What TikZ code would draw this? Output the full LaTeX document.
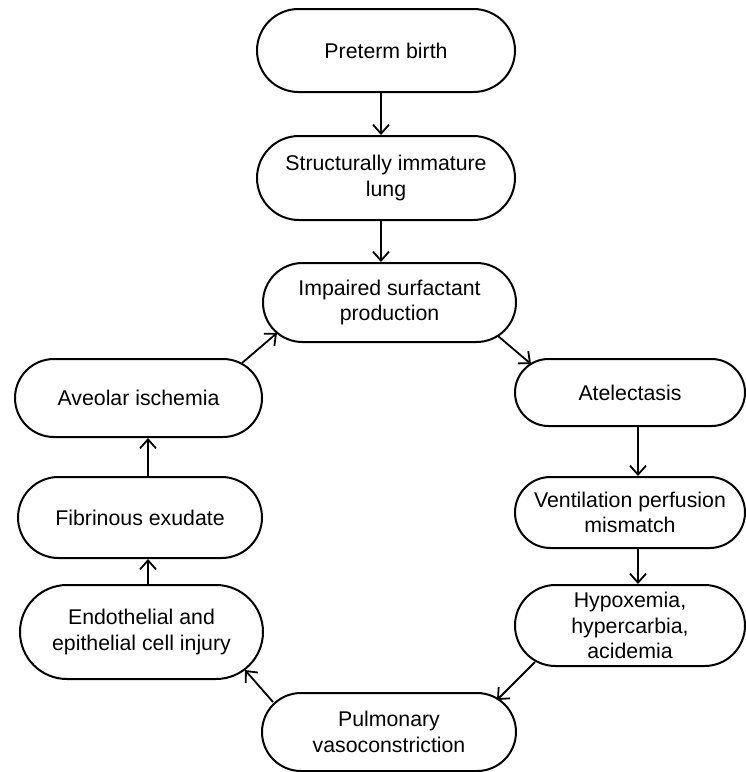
\documentclass[tikz,border=0pt]{standalone}
\usepackage{fontspec}
\setmainfont{Liberation Sans}
\usetikzlibrary{shapes.misc,arrows.meta}
\begin{document}
\begin{tikzpicture}[x=1pt,y=-1pt,
  box/.style={rounded rectangle, draw=black, line width=2pt, inner sep=0pt, align=center,
    font=\fontsize{21.3}{25.7}\selectfont},
  arr/.style={line width=1.8pt, -{Straight Barb[length=9pt,width=16pt]}}]
\clip (0,0) rectangle (746,772);
\node[box, minimum width=258, minimum height=83] (pre) at (386,50.5) {Preterm birth};
\node[box, minimum width=258, minimum height=84] (str) at (386,178) {Structurally immature\\lung};
\node[box, minimum width=253, minimum height=79] (imp) at (389.5,302.5) {Impaired surfactant\\production};
\node[box, minimum width=230, minimum height=67] (atel) at (630,392.5) {Atelectasis};
\node[box, minimum width=230, minimum height=71] (vent) at (630,512.5) {Ventilation perfusion\\mismatch};
\node[box, minimum width=230, minimum height=81] (hyp) at (630,625.5) {Hypoxemia,\\hypercarbia,\\acidemia};
\node[box, minimum width=254, minimum height=78] (pul) at (389,732) {Pulmonary\\vasoconstriction};
\node[box, minimum width=243, minimum height=94] (endo) at (141.5,632) {Endothelial and\\epithelial cell injury};
\node[box, minimum width=244, minimum height=81] (fib) at (140,517.5) {Fibrinous exudate};
\node[box, minimum width=247, minimum height=78] (ave) at (138.5,398) {Aveolar ischemia};
\coordinate (mx) at (381,0);
\coordinate (rx) at (638,0);
\coordinate (lx) at (148,0);
\draw[arr] (pre.south -| mx) -- (str.north -| mx);
\draw[arr] (str.south -| mx) -- (imp.north -| mx);
\draw[arr] ([shift={(108.5,33.5)}]imp.center) -- ([shift={(-99,-28.5)}]atel.center);
\draw[arr] (atel.south -| rx) -- (vent.north -| rx);
\draw[arr] (vent.south -| rx) -- (hyp.north -| rx);
\draw[arr] ([shift={(-95,36.5)}]hyp.center) -- ([shift={(108,-32)}]pul.center);
\draw[arr] ([shift={(-116,-30)}]pul.center) -- ([shift={(103.5,38)}]endo.center);
\draw[arr] (endo.north -| lx) -- (fib.south -| lx);
\draw[arr] (fib.north -| lx) -- (ave.south -| lx);
\draw[arr] ([shift={(103.5,-35)}]ave.center) -- ([shift={(-112.5,30.5)}]imp.center);
\end{tikzpicture}
\end{document}
